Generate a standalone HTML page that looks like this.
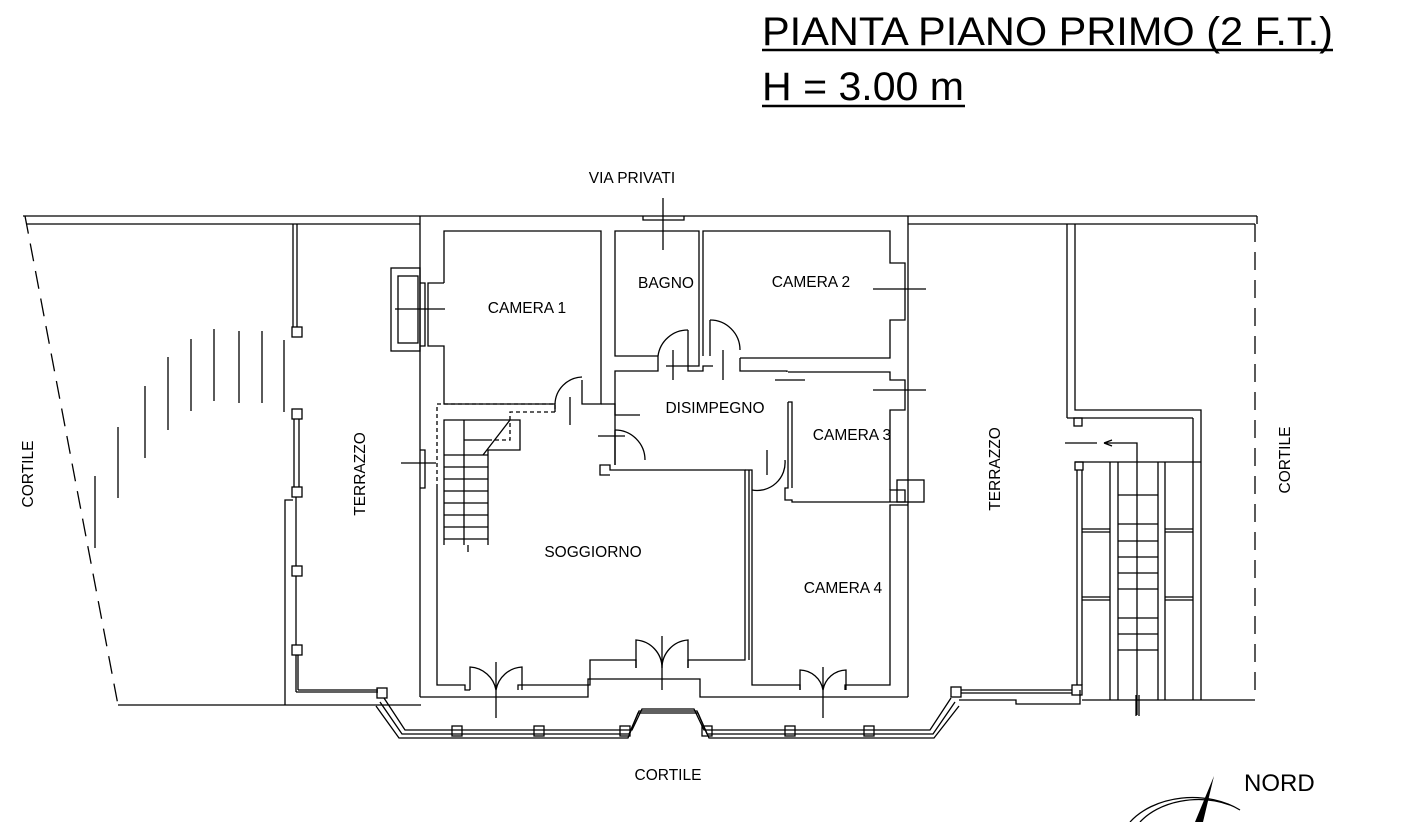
<!DOCTYPE html>
<html><head><meta charset="utf-8"><style>
html,body{margin:0;padding:0;background:#fff}
svg{display:block}
text{font-family:"Liberation Sans",sans-serif;fill:#000}
</style></head><body>
<svg width="1409" height="822" viewBox="0 0 1409 822" xmlns="http://www.w3.org/2000/svg">
<g stroke="#000" stroke-width="1.3" fill="none">
<line x1="762" y1="50" x2="1333" y2="50" stroke-width="2.5"/>
<line x1="762" y1="106" x2="965" y2="106" stroke-width="2.5"/>

<line x1="23" y1="216" x2="1257" y2="216"/>
<line x1="27" y1="224" x2="420" y2="224"/>
<line x1="908" y1="224" x2="1255" y2="224"/>
<line x1="1257" y1="216" x2="1257" y2="224"/>
<line x1="1255" y1="224" x2="1255" y2="700" stroke-dasharray="18,10"/>
<line x1="25" y1="216" x2="118" y2="705" stroke-dasharray="18,10"/>
<line x1="118" y1="705" x2="421" y2="705"/>

<line x1="293" y1="224" x2="293" y2="327"/><line x1="297" y1="224" x2="297" y2="327"/>
<rect x="292" y="327" width="10" height="10"/>
<rect x="292" y="409" width="10" height="10"/>
<line x1="294" y1="419" x2="294" y2="487"/><line x1="299" y1="419" x2="299" y2="487"/>
<rect x="292" y="487" width="10" height="10"/>
<line x1="296" y1="497" x2="296" y2="566"/>
<rect x="292" y="566" width="10" height="10"/>
<line x1="296" y1="576" x2="296" y2="645"/>
<rect x="292" y="645" width="10" height="10"/>
<line x1="296" y1="655" x2="296" y2="692"/><line x1="298" y1="655" x2="298" y2="690"/>
<line x1="296" y1="692" x2="378" y2="692"/><line x1="298" y1="690" x2="378" y2="690"/>
<rect x="377" y="688" width="10" height="10"/>
<polyline points="285,705 285,500 293,500"/>
<line x1="95" y1="476" x2="95" y2="548"/>
<line x1="118" y1="427" x2="118" y2="498"/>
<line x1="145" y1="386" x2="145" y2="458"/>
<line x1="168" y1="357" x2="168" y2="430"/>
<line x1="191" y1="339" x2="191" y2="411"/>
<line x1="214" y1="329" x2="214" y2="401"/>
<line x1="239" y1="331" x2="239" y2="403"/>
<line x1="262" y1="331" x2="262" y2="403"/>
<line x1="284" y1="340" x2="284" y2="412"/>

<line x1="420" y1="216" x2="420" y2="697"/>
<line x1="908" y1="216" x2="908" y2="697"/>
<polyline points="420,697 588,697 588,679 700,679 700,697 908,697"/>
<rect x="391" y="268" width="29" height="83"/>
<rect x="398" y="276" width="20" height="67"/>
<line x1="395" y1="309" x2="445" y2="309"/>
<polyline points="420,283 425,283 425,346 420,346"/>
<polyline points="420,450 425,450 425,488 420,488"/>
<line x1="401" y1="463" x2="436" y2="463"/>

<polyline points="444,283 444,231 601,231 601,404 582,404 582,380"/>
<polyline points="444,283 428,283 428,346 444,346 444,404 555,404 555,412"/>
<polyline points="437,488 437,404 555,404 555,412 510,412 510,440 490,440" stroke-dasharray="4,3"/>
<polyline points="444,545 444,420 520,420 520,450 488,450 488,545"/>
<line x1="464" y1="420" x2="464" y2="545"/>
<line x1="464" y1="440" x2="490" y2="440"/>
<line x1="444" y1="455" x2="488" y2="455"/>
<line x1="444" y1="467" x2="488" y2="467"/>
<line x1="444" y1="479" x2="488" y2="479"/>
<line x1="444" y1="491" x2="488" y2="491"/>
<line x1="444" y1="503" x2="488" y2="503"/>
<line x1="444" y1="515" x2="488" y2="515"/>
<line x1="444" y1="527" x2="488" y2="527"/>
<line x1="444" y1="539" x2="488" y2="539"/>
<line x1="483" y1="455" x2="510" y2="420"/>
<line x1="468" y1="545" x2="468" y2="552"/>
<path d="M555,404 A28,28 0 0 1 582,377"/>
<line x1="570" y1="397" x2="570" y2="425"/>

<polyline points="437,488 437,685 465,685 465,690 470,690"/>
<polyline points="518,690 518,685 590,685 590,660 636,660 636,668"/>
<polyline points="688,668 688,660 745,660 745,470 610,470 610,465 600,465 600,475 610,475"/>
<polyline points="601,404 615,404 615,415 640,415"/>
<polyline points="615,465 615,371 658,371 658,356 615,356 615,231 699,231 699,366 688,366"/>
<polyline points="703,356 703,231 890,231 890,263 905,263 905,320 890,320 890,358 740,358"/>
<polyline points="666,366 688,366 688,371 703,371 703,366 713,366"/>
<path d="M658,356 A30,30 0 0 1 688,330"/>
<path d="M710,320 A30,30 0 0 1 740,350"/>
<line x1="673" y1="350" x2="673" y2="380"/><line x1="723" y1="350" x2="723" y2="380"/>
<line x1="710" y1="320" x2="710" y2="356"/>
<line x1="688" y1="330" x2="688" y2="366"/>
<polyline points="740,358 740,371 787,371 787,372"/>
<path d="M615,430 A30,30 0 0 1 645,460"/>
<line x1="598" y1="436" x2="625" y2="436"/>
<polyline points="615,430 615,465"/>
<polyline points="788,372 818,372 M818,372 A30,30 0 0 1 788,402"/>
<line x1="775" y1="380" x2="805" y2="380"/>
<polyline points="788,402 788,488 785,488 785,500 792,500 792,502 890,502 890,490 905,490 905,502 890,502"/>
<polyline points="788,402 792,402 792,488"/>
<polyline points="818,372 890,372 890,380 905,380 905,410 890,410 890,490"/>
<line x1="873" y1="289" x2="926" y2="289"/>
<line x1="873" y1="390" x2="926" y2="390"/>
<rect x="897" y="480" width="27" height="22"/>
<path d="M752,490 A28,28 0 0 0 785,460"/>
<line x1="767" y1="450" x2="767" y2="475"/>
<polyline points="745,470 752,470 752,685 800,685 800,690"/>
<polyline points="845,690 845,685 890,685 890,505 908,505"/>
<line x1="749" y1="470" x2="749" y2="660"/>

<path d="M470,690 L470,667 A28,28 0 0 1 496,690 A28,28 0 0 1 522,667 L522,690"/>
<line x1="496" y1="662" x2="496" y2="718"/>
<path d="M636,668 L636,640 A28,28 0 0 1 662,668 A28,28 0 0 1 688,640 L688,668"/>
<line x1="662" y1="636" x2="662" y2="690"/>
<path d="M800,690 L800,670 A24,24 0 0 1 823,690 A24,24 0 0 1 846,670 L846,690"/>
<line x1="823" y1="667" x2="823" y2="718"/>

<polyline points="384,698 405,730 632,730 642,709 694,709 704,730 930,730 951,698"/>
<polyline points="380,702 402,734 629,734 639,711 697,711 707,734 933,734 955,702"/>
<polyline points="376,706 399,738 628,738 638,713 698,713 709,738 934,738 959,706"/>
<rect x="452" y="726" width="10" height="10"/>
<rect x="534" y="726" width="10" height="10"/>
<rect x="620" y="726" width="10" height="10"/>
<rect x="702" y="726" width="10" height="10"/>
<rect x="785" y="726" width="10" height="10"/>
<rect x="864" y="726" width="10" height="10"/>
<rect x="951" y="687" width="10" height="10"/>
<line x1="961" y1="690" x2="1072" y2="690"/><line x1="961" y1="693" x2="1072" y2="693"/>
<polyline points="959,700 1016,700 1016,704 1080,704 1080,690"/>
<rect x="1072" y="685" width="10" height="10"/>

<line x1="1067" y1="224" x2="1067" y2="418"/>
<polyline points="1075,224 1075,410 1201,410 1201,462"/>
<line x1="1067" y1="418" x2="1193" y2="418"/>
<line x1="1193" y1="418" x2="1193" y2="700"/>
<rect x="1074" y="418" width="8" height="8"/>
<rect x="1075" y="462" width="8" height="8"/>
<line x1="1065" y1="443" x2="1097" y2="443"/>
<polyline points="1104,443 1137,443 1137,462"/>
<path d="M1104,443 l8,-3 M1104,443 l8,3"/>
<line x1="1077" y1="470" x2="1077" y2="685"/><line x1="1082" y1="470" x2="1082" y2="685"/>
<line x1="1075" y1="462" x2="1201" y2="462"/>
<line x1="1110" y1="462" x2="1110" y2="700"/><line x1="1118" y1="462" x2="1118" y2="700"/>
<line x1="1158" y1="462" x2="1158" y2="700"/><line x1="1165" y1="462" x2="1165" y2="700"/>
<line x1="1201" y1="462" x2="1201" y2="700"/>
<line x1="1082" y1="700" x2="1255" y2="700"/>
<line x1="1137" y1="462" x2="1137" y2="715"/>
<line x1="1136" y1="695" x2="1136" y2="716"/><line x1="1139" y1="695" x2="1139" y2="716"/>
<g>
<line x1="1118" y1="495" x2="1158" y2="495"/>
<line x1="1118" y1="524" x2="1158" y2="524"/>
<line x1="1118" y1="541" x2="1158" y2="541"/>
<line x1="1118" y1="557" x2="1158" y2="557"/>
<line x1="1118" y1="573" x2="1158" y2="573"/>
<line x1="1118" y1="589" x2="1158" y2="589"/>
<line x1="1118" y1="618" x2="1158" y2="618"/>
<line x1="1118" y1="634" x2="1158" y2="634"/>
<line x1="1118" y1="650" x2="1158" y2="650"/>
</g>
<line x1="1082" y1="529" x2="1110" y2="529"/><line x1="1082" y1="532" x2="1110" y2="532"/>
<line x1="1082" y1="597" x2="1110" y2="597"/><line x1="1082" y1="600" x2="1110" y2="600"/>
<line x1="1165" y1="529" x2="1193" y2="529"/><line x1="1165" y1="532" x2="1193" y2="532"/>
<line x1="1165" y1="597" x2="1193" y2="597"/><line x1="1165" y1="600" x2="1193" y2="600"/>

<line x1="663" y1="198" x2="663" y2="250"/>
<polyline points="643,216 643,220 684,220 684,216"/>

<path d="M1140,822 A70,50 0 0 1 1230,805"/>
<path d="M1130,822 A75,55 0 0 1 1240,810"/>
</g>
<path d="M1195,822 L1214,776 L1203,822 Z" fill="#000"/>

<text x="762" y="45" font-size="40" textLength="571" lengthAdjust="spacingAndGlyphs">PIANTA PIANO PRIMO (2 F.T.)</text>
<text x="762" y="100" font-size="40" textLength="202" lengthAdjust="spacingAndGlyphs">H = 3.00 m</text>
<g font-size="15.5" text-anchor="middle">
<text x="632" y="183">VIA PRIVATI</text>
<text x="527" y="313">CAMERA 1</text>
<text x="666" y="288">BAGNO</text>
<text x="811" y="287">CAMERA 2</text>
<text x="715" y="413">DISIMPEGNO</text>
<text x="852" y="440">CAMERA 3</text>
<text x="593" y="557">SOGGIORNO</text>
<text x="843" y="593">CAMERA 4</text>
<text x="668" y="780">CORTILE</text>
<text transform="translate(365,474) rotate(-90)">TERRAZZO</text>
<text transform="translate(1000,469) rotate(-90)">TERRAZZO</text>
<text transform="translate(33,474) rotate(-90)">CORTILE</text>
<text transform="translate(1290,460) rotate(-90)">CORTILE</text>
</g>
<text x="1244" y="791" font-size="24">NORD</text>
</svg>
</body></html>
